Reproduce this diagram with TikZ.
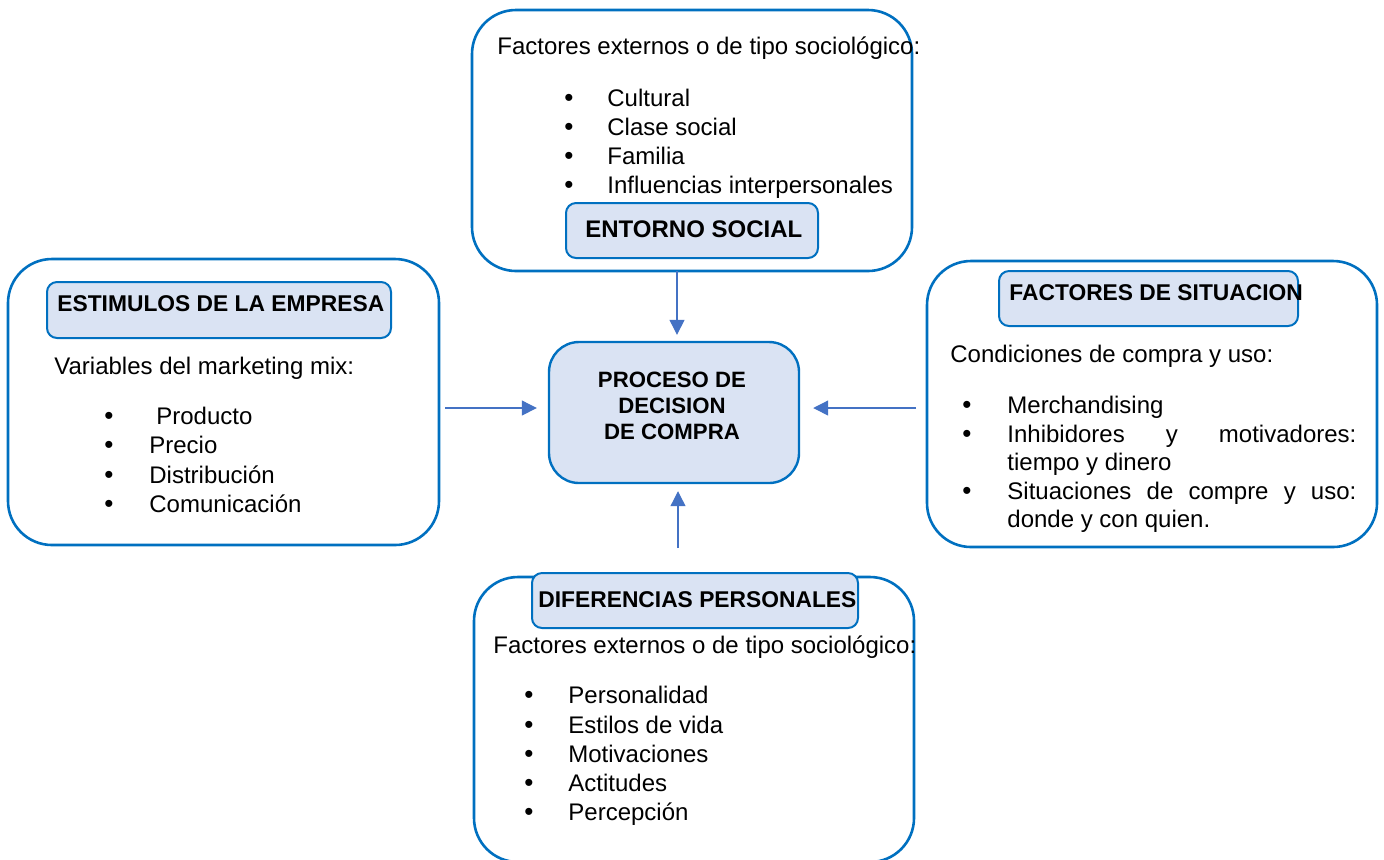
\documentclass[tikz,border=0pt]{standalone}
\usepackage{fontspec}
\setmainfont{Liberation Sans}
\usetikzlibrary{arrows.meta,calc}
\definecolor{bord}{HTML}{0070C0}
\definecolor{fillb}{HTML}{DAE3F3}
\definecolor{arrc}{HTML}{4472C4}
\begin{document}
\begin{tikzpicture}[x=0.5pt,y=-0.5pt,
  outer/.style={draw=bord, line width=1.3pt, rounded corners=22pt, fill=white, inner sep=0pt},
  hdr/.style={draw=bord, line width=1pt, rounded corners=5pt, fill=fillb, inner sep=0pt},
  ctrbox/.style={draw=bord, line width=1.2pt, rounded corners=15pt, fill=fillb, inner sep=0pt},
  txt/.style={anchor=base west, inner sep=0pt, font=\fontsize{12}{14}\selectfont},
  bul/.style={anchor=base west, inner sep=0pt, font=\fontsize{13}{14}\selectfont},
  htxt/.style={anchor=base west, inner sep=0pt, font=\fontsize{11.4}{14}\selectfont\bfseries},
  ctxt/.style={anchor=base, inner sep=0pt, font=\fontsize{11.1}{13}\selectfont\bfseries},
  arr/.style={draw=arrc, line width=0.6pt, -{Triangle[length=7.5pt,width=7.5pt]}}]
\useasboundingbox (0,0) rectangle (1384,859);
\clip (0,0) rectangle (1384,859);

% ---------- top box: ENTORNO SOCIAL ----------
\node[outer, minimum width=220pt, minimum height=130.5pt] (topbox) at (692,140.5) {};
\node[txt] (topintro) at (497,54) {Factores externos o de tipo sociológico:};
\node[bul] (tb1) at (564,106) {\textbullet};
\node[txt] (ti1) at (607,106) {Cultural};
\node[bul] (tb2) at (564,135) {\textbullet};
\node[txt] (ti2) at (607,135) {Clase social};
\node[bul] (tb3) at (564,164) {\textbullet};
\node[txt] (ti3) at (607,164) {Familia};
\node[bul] (tb4) at (564,193) {\textbullet};
\node[txt] (ti4) at (607,193) {Influencias interpersonales};
\node[hdr, minimum width=126pt, minimum height=27.5pt] (tophdr) at (692,230.5) {};
\node[txt, font=\fontsize{12}{14}\selectfont\bfseries] (tophdrtxt) at (585,237) {ENTORNO SOCIAL};

% ---------- left box: ESTIMULOS ----------
\node[outer, minimum width=215.5pt, minimum height=143pt] (leftbox) at (223.5,402) {};
\node[hdr, minimum width=172pt, minimum height=28pt] (lefthdr) at (219,310) {};
\node[htxt] (lefthdrtxt) at (57,311) {ESTIMULOS DE LA EMPRESA};
\node[txt] (leftintro) at (54,374) {Variables del marketing mix:};
\node[bul] (lb1) at (104,424) {\textbullet};
\node[txt] (li1) at (156,424) {Producto};
\node[bul] (lb2) at (104,453) {\textbullet};
\node[txt] (li2) at (149,453) {Precio};
\node[bul] (lb3) at (104,483) {\textbullet};
\node[txt] (li3) at (149,483) {Distribución};
\node[bul] (lb4) at (104,512) {\textbullet};
\node[txt] (li4) at (149,512) {Comunicación};

% ---------- right box: FACTORES DE SITUACION ----------
\node[outer, minimum width=225pt, minimum height=143pt] (rightbox) at (1152,404) {};
\node[hdr, minimum width=149.5pt, minimum height=27.5pt] (righthdr) at (1148.5,298.5) {};
\node[htxt] (righthdrtxt) at (1009,300) {FACTORES DE SITUACION};
\node[txt] (rightintro) at (950,362) {Condiciones de compra y uso:};
\node[bul] (rb1) at (962,413) {\textbullet};
\node[txt] (ri1) at (1007,413) {Merchandising};
\node[bul] (rb2) at (962,442) {\textbullet};
\node[txt] (ri2a) at (1007,442) {\hbox to 174.5pt{Inhibidores\hfill y\hfill motivadores:}};
\node[txt] (ri2b) at (1007,470) {tiempo y dinero};
\node[bul] (rb3) at (962,499) {\textbullet};
\node[txt] (ri3a) at (1007,499) {\hbox to 174.5pt{Situaciones\hfill de\hfill compre\hfill y\hfill uso:}};
\node[txt] (ri3b) at (1007,527) {donde y con quien.};

% ---------- bottom box: DIFERENCIAS PERSONALES ----------
\node[outer, minimum width=220pt, minimum height=142.5pt] (botbox) at (694,719.5) {};
\node[hdr, minimum width=163pt, minimum height=27.5pt] (bothdr) at (695,600.5) {};
\node[htxt] (bothdrtxt) at (538,607) {DIFERENCIAS PERSONALES};
\node[txt] (botintro) at (493,653) {Factores externos o de tipo sociológico:};
\node[bul] (bb1) at (524,703) {\textbullet};
\node[txt] (bi1) at (568,703) {Personalidad};
\node[bul] (bb2) at (524,733) {\textbullet};
\node[txt] (bi2) at (568,733) {Estilos de vida};
\node[bul] (bb3) at (524,762) {\textbullet};
\node[txt] (bi3) at (568,762) {Motivaciones};
\node[bul] (bb4) at (524,791) {\textbullet};
\node[txt] (bi4) at (568,791) {Actitudes};
\node[bul] (bb5) at (524,820) {\textbullet};
\node[txt] (bi5) at (568,820) {Percepción};

% ---------- center box ----------
\node[ctrbox, minimum width=125pt, minimum height=70.5pt] (ctr) at (674,412.5) {};
\node[ctxt] (ctr1) at (672,387) {PROCESO DE};
\node[ctxt] (ctr2) at (672,413) {DECISION};
\node[ctxt] (ctr3) at (672,439) {DE COMPRA};

% ---------- connectors ----------
\coordinate (ta) at (677,271);
\coordinate (la) at (445,408);
\coordinate (ra) at (916,408);
\coordinate (ba) at (678,548);
\draw[arr, shorten >=3pt] (ta) -- (ta |- ctr.north);
\draw[arr, shorten >=5.5pt] (la) -- (la -| ctr.west);
\draw[arr, shorten >=6.5pt] (ra) -- (ra -| ctr.east);
\draw[arr, shorten >=3.5pt] (ba) -- (ba |- ctr.south);
\end{tikzpicture}
\end{document}
